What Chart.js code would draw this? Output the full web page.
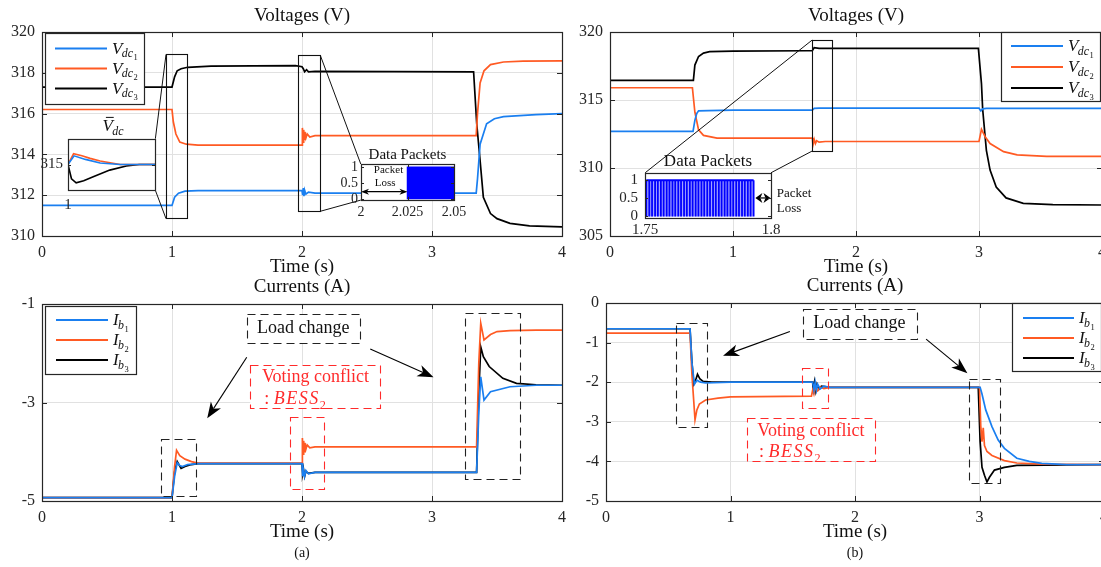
<!DOCTYPE html>
<html><head><meta charset="utf-8">
<script src="https://cdn.jsdelivr.net/npm/chart.js@4.4.0/dist/chart.umd.min.js"></script>
<style>
html,body{margin:0;padding:0;background:#fff;width:1101px;height:567px;overflow:hidden;position:relative}
canvas{position:absolute}
</style></head><body>
<canvas id="cTL"></canvas><canvas id="cTR"></canvas><canvas id="cBL"></canvas><canvas id="cBR"></canvas>
<canvas id="cInV"></canvas><canvas id="cInPA"></canvas><canvas id="cInPB"></canvas>
<script>
// ================= DATA =================
const xTicksMain = [0, 1, 2, 3, 4];
const yTicksTL = [310, 312, 314, 316, 318, 320];
const yTicksTR = [305, 310, 315, 320];
const yTicksBL = [-5, -3, -1];
const yTicksBR = [-5, -4, -3, -2, -1, 0];

// (a) Voltages
const tA_V1 = [0,1.0,1.02,1.05,1.1,1.2,2.0,2.005,2.01,2.015,2.02,2.03,2.05,2.1,3.34,3.35,3.37,3.42,3.48,3.55,3.8,4.0];
const vA_V1 = [311.5,311.5,311.9,312.1,312.2,312.22,312.22,312.0,312.35,311.95,312.25,312.05,312.15,312.1,312.1,312.8,314.5,315.5,315.75,315.85,315.95,316.0];
const tA_V2 = [0,1.0,1.01,1.03,1.06,1.11,1.2,2.0,2.003,2.008,2.013,2.018,2.023,2.03,2.04,2.06,2.1,3.34,3.35,3.37,3.4,3.45,3.55,3.7,4.0];
const vA_V2 = [316.2,316.2,315.6,315.0,314.6,314.5,314.45,314.45,315.3,314.6,315.2,314.75,315.1,314.8,315.0,314.85,314.92,314.92,316.0,317.5,318.1,318.4,318.53,318.57,318.58];
const tA_V3 = [0,1.0,1.02,1.04,1.07,1.12,1.3,1.95,2.0,2.01,2.02,2.035,2.05,2.1,3.32,3.344,3.37,3.395,3.45,3.5,3.6,3.75,4.0];
const vA_V3 = [317.3,317.3,317.8,318.1,318.2,318.27,318.33,318.35,318.3,318.2,318.05,318.15,318.05,318.07,318.05,315.5,313.7,311.9,311.1,310.85,310.62,310.5,310.45];

// (b) Voltages
const tB_V1 = [0,0.675,0.69,0.705,0.72,0.8,1.0,1.645,1.66,1.7,3.0,3.015,3.03,3.06,4.0];
const vB_V1 = [312.7,312.7,313.5,314.0,314.2,314.22,314.25,314.25,314.38,314.4,314.4,314.2,314.35,314.38,314.38];
const tB_V2 = [0,0.67,0.68,0.69,0.72,0.76,0.87,1.0,1.645,1.65,1.66,1.67,1.68,1.7,1.75,3.0,3.02,3.05,3.09,3.2,3.31,3.55,4.0];
const vB_V2 = [315.9,315.9,315.0,314.1,312.8,312.4,312.2,312.2,312.2,311.7,312.1,311.8,312.0,311.9,311.95,311.95,312.85,312.3,311.8,311.2,310.96,310.85,310.85];
const tB_V3 = [0,0.678,0.69,0.72,0.76,0.81,1.0,1.6,1.645,1.66,1.7,2.995,3.02,3.03,3.06,3.09,3.14,3.22,3.36,3.6,4.0];
const vB_V3 = [316.45,316.45,317.57,318.2,318.45,318.55,318.6,318.62,318.62,318.85,318.8,318.8,316.2,314.3,311.3,309.85,308.6,307.8,307.4,307.3,307.28];

// (a) Currents
const tA_I1 = [0,1.0,1.02,1.04,1.06,1.08,1.12,1.2,2.0,2.005,2.01,2.02,2.03,2.05,2.1,3.343,3.36,3.375,3.4,3.45,3.6,3.8,4.0];
const vA_I1 = [-4.93,-4.93,-4.5,-4.22,-4.28,-4.3,-4.26,-4.24,-4.24,-4.5,-4.35,-4.5,-4.38,-4.45,-4.42,-4.42,-3.2,-2.48,-2.95,-2.78,-2.68,-2.65,-2.65];
const tA_I2 = [0,1.0,1.02,1.035,1.06,1.1,1.15,1.2,2.0,2.003,2.008,2.013,2.018,2.023,2.03,2.04,2.06,2.1,3.343,3.36,3.375,3.4,3.45,3.5,3.6,3.8,4.0];
const vA_I2 = [-4.93,-4.93,-4.3,-3.97,-4.08,-4.15,-4.2,-4.23,-4.23,-3.72,-4.05,-3.78,-4.0,-3.82,-3.95,-3.86,-3.92,-3.9,-3.9,-2.2,-1.39,-1.73,-1.62,-1.56,-1.54,-1.53,-1.53];
const tA_I3 = [0,1.0,1.02,1.04,1.07,1.1,1.15,1.2,2.0,2.005,2.012,2.02,2.03,2.05,2.1,3.343,3.36,3.375,3.395,3.44,3.545,3.65,3.8,4.0];
const vA_I3 = [-4.93,-4.93,-4.4,-4.2,-4.34,-4.3,-4.26,-4.24,-4.24,-4.45,-4.36,-4.5,-4.4,-4.44,-4.42,-4.42,-2.8,-1.87,-2.07,-2.27,-2.51,-2.61,-2.64,-2.65];

// (b) Currents
const tB_I1 = [0,0.675,0.69,0.71,0.73,0.76,0.8,1.0,1.66,1.67,1.68,1.69,1.7,1.72,1.75,1.8,3.005,3.02,3.05,3.1,3.15,3.2,3.3,3.4,3.5,3.7,4.0];
const vB_I1 = [-0.65,-0.65,-1.5,-2.05,-1.95,-2.0,-2.02,-2.0,-2.0,-2.2,-2.0,-2.2,-2.05,-2.17,-2.1,-2.13,-2.13,-2.3,-2.7,-3.12,-3.46,-3.67,-3.92,-4.0,-4.05,-4.08,-4.08];
const tB_I2 = [0,0.675,0.69,0.715,0.73,0.75,0.8,0.9,1.0,1.65,1.66,1.67,1.68,1.7,1.72,1.75,1.8,3.0,3.01,3.02,3.03,3.04,3.06,3.1,3.2,3.3,3.5,4.0];
const vB_I2 = [-0.76,-0.76,-1.8,-2.95,-2.7,-2.55,-2.45,-2.4,-2.37,-2.35,-2.2,-2.3,-2.15,-2.22,-2.12,-2.16,-2.13,-2.13,-3.1,-3.5,-3.15,-3.6,-3.75,-3.85,-3.98,-4.04,-4.07,-4.08];
const tB_I3 = [0,0.675,0.69,0.705,0.72,0.735,0.755,0.78,0.85,1.0,1.66,1.665,1.675,1.685,1.695,1.71,1.73,1.8,2.99,3.005,3.02,3.04,3.06,3.08,3.12,3.2,3.3,4.0];
const vB_I3 = [-0.65,-0.65,-1.5,-2.05,-1.95,-1.8,-1.92,-1.98,-2.0,-2.0,-2.0,-2.25,-2.0,-2.22,-2.05,-2.18,-2.1,-2.13,-2.13,-3.5,-4.15,-4.35,-4.52,-4.4,-4.22,-4.15,-4.1,-4.08];

// Inset: averaged voltage (a)
const tIn_V1 = [1.0,1.035,1.1,1.185,1.3,1.5];
const vIn_V1 = [315.0,315.17,315.1,315.03,315.0,315.0];
const tIn_V2 = [1.0,1.032,1.08,1.127,1.185,1.25,1.3,1.5];
const vIn_V2 = [315.0,315.21,315.17,315.12,315.07,315.03,315.0,315.0];
const tIn_V3 = [1.0,1.02,1.047,1.09,1.145,1.24,1.335,1.41,1.5];
const vIn_V3 = [315.0,314.72,314.64,314.68,314.76,314.89,314.97,315.0,315.0];
const xTicksInV = [1];
const yTicksInV = [315];

// Inset: data packets (a)
const pktA_t = [2.025, 2.025, 2.05, 2.05];
const pktA_v = [0, 1, 1, 0];
const xTicksPA = [2, 2.025, 2.05];
const yTicksPA = [0, 0.5, 1];

// Inset: data packets (b)
const pktB_t = [1.7505,1.7517,1.7528,1.7540,1.7551,1.7563,1.7574,1.7586,1.7597,1.7609,1.7620,1.7632,1.7643,1.7655,1.7666,1.7678,1.7689,1.7701,1.7712,1.7724,1.7735,1.7747,1.7758,1.7770,1.7781,1.7793,1.7804,1.7816,1.7827,1.7839,1.7850,1.7862,1.7873,1.7885,1.7896,1.7908,1.7919,1.7931];
const xTicksPB = [1.75, 1.8];
const yTicksPB = [0, 0.5, 1];

// ================= STYLE / HELPERS =================
const FONT = '"Liberation Serif","Times New Roman",serif';
const C_BLUE = '#1a7ff0', C_ORANGE = '#ff5a23', C_BLACK = '#000000', C_RED = '#ff2b2b', C_FRAME = '#262626', C_PKT = '#0000ff';
const DASH = [8, 5];

function pts(t, v) { return t.map((x, i) => ({x: x, y: v[i]})); }
function fmt(v) { return String(+Number(v).toFixed(4)); }

function drawSub(ctx, x, y, it, size, color) {
  ctx.save();
  ctx.fillStyle = color; ctx.strokeStyle = color; ctx.textAlign = 'left'; ctx.textBaseline = 'alphabetic';
  ctx.font = 'italic ' + size + 'px ' + FONT;
  ctx.fillText(it.main, x, y);
  const w = ctx.measureText(it.main).width;
  if (it.bar) {
    ctx.lineWidth = 1; ctx.beginPath();
    ctx.moveTo(x + size * 0.2, y - size * 0.8); ctx.lineTo(x + w + size * 0.05, y - size * 0.8); ctx.stroke();
  }
  const s2 = size * 0.7;
  ctx.font = 'italic ' + s2 + 'px ' + FONT;
  const x2 = x + w - size * 0.04, y2 = y + size * 0.22;
  ctx.fillText(it.sub, x2, y2);
  const w2 = ctx.measureText(it.sub).width;
  if (it.subsub) {
    ctx.font = (size * 0.5) + 'px ' + FONT;
    ctx.fillText(it.subsub, x2 + w2 + 0.5, y2 + size * 0.17);
  }
  ctx.restore();
}

function drawRich(ctx, cx, cy, parts, size, color) {
  ctx.save();
  ctx.fillStyle = color; ctx.textAlign = 'left'; ctx.textBaseline = 'alphabetic';
  const fonts = parts.map(p => p[1] === 'italic' ? 'italic ' + size + 'px ' + FONT : (p[1] === 'sub' ? (size * 0.68) + 'px ' + FONT : size + 'px ' + FONT));
  const sp = 1.5;
  let total = 0;
  const ws = parts.map((p, i) => {
    ctx.font = fonts[i];
    let w = ctx.measureText(p[0]).width;
    if (p[1] === 'italic') w += (p[0].length) * sp;
    total += w; return w;
  });
  let x = cx - total / 2;
  const base = cy + size * 0.33;
  parts.forEach((p, i) => {
    ctx.font = fonts[i];
    if (p[1] === 'italic') {
      let xx = x;
      for (const ch of p[0]) { ctx.fillText(ch, xx, base); xx += ctx.measureText(ch).width + sp; }
    } else if (p[1] === 'sub') {
      ctx.fillText(p[0], x, base + size * 0.25);
    } else {
      ctx.fillText(p[0], x, base);
    }
    x += ws[i];
  });
  ctx.restore();
}

function arrowHead(ctx, x0, y0, x1, y1, len, half) {
  const a = Math.atan2(y1 - y0, x1 - x0);
  const ux = Math.cos(a), uy = Math.sin(a), nx = -uy, ny = ux;
  const bx = x1 - ux * len, by = y1 - uy * len;
  const notch = len * 0.72;
  ctx.beginPath();
  ctx.moveTo(x1, y1);
  ctx.lineTo(bx + nx * half, by + ny * half);
  ctx.lineTo(x1 - ux * notch, y1 - uy * notch);
  ctx.lineTo(bx - nx * half, by - ny * half);
  ctx.closePath(); ctx.fill();
  return [x1 - ux * notch, y1 - uy * notch];
}

function P(chart, x, y) { return [chart.scales.x.getPixelForValue(x), chart.scales.y.getPixelForValue(y)]; }

function drawAnnots(chart, an) {
  const ctx = chart.ctx;
  ctx.save();
  (an.rects || []).forEach(r => {
    const [xa, ya] = P(chart, r.x0, r.y1), [xb, yb] = P(chart, r.x1, r.y0);
    if (r.fill) { ctx.fillStyle = '#fff'; ctx.fillRect(xa, ya, xb - xa, yb - ya); }
    ctx.setLineDash(r.dash || []);
    ctx.strokeStyle = r.color; ctx.lineWidth = r.lw || 1.1;
    ctx.strokeRect(Math.round(xa) + 0.5, Math.round(ya) + 0.5, Math.round(xb - xa), Math.round(yb - ya));
  });
  ctx.setLineDash([]);
  (an.links || []).forEach(l => {
    const [xa, ya] = P(chart, l.x0, l.y0), [xb, yb] = P(chart, l.x1, l.y1);
    ctx.strokeStyle = '#111'; ctx.lineWidth = 1;
    ctx.beginPath(); ctx.moveTo(xa, ya); ctx.lineTo(xb, yb); ctx.stroke();
  });
  (an.arrows || []).forEach(l => {
    const [xa, ya] = P(chart, l.x0, l.y0), [xb, yb] = P(chart, l.x1, l.y1);
    ctx.fillStyle = '#000'; ctx.strokeStyle = '#000'; ctx.lineWidth = 1.1;
    const e = arrowHead(ctx, xa, ya, xb, yb, l.len || 16, l.half || 6);
    ctx.beginPath(); ctx.moveTo(xa, ya); ctx.lineTo(e[0], e[1]); ctx.stroke();
  });
  (an.darrows || []).forEach(l => {
    const [xa, ya] = P(chart, l.x0, l.y), [xb, yb] = P(chart, l.x1, l.y);
    ctx.fillStyle = '#000'; ctx.strokeStyle = '#000'; ctx.lineWidth = 1.2;
    const e1 = arrowHead(ctx, xa, ya, xb, yb, l.len || 7, l.half || 3);
    const e0 = arrowHead(ctx, xb, yb, xa, ya, l.len || 7, l.half || 3);
    ctx.beginPath(); ctx.moveTo(e0[0], e0[1]); ctx.lineTo(e1[0], e1[1]); ctx.stroke();
  });
  (an.texts || []).forEach(t => {
    const [xx, yy] = P(chart, t.x, t.y);
    ctx.fillStyle = t.color || '#111';
    ctx.font = (t.size || 18) + 'px ' + FONT;
    ctx.textAlign = t.align || 'center'; ctx.textBaseline = 'middle';
    ctx.fillText(t.text, xx, yy);
  });
  (an.rich || []).forEach(t => {
    const [xx, yy] = P(chart, t.x, t.y);
    drawRich(ctx, xx, yy, t.parts, t.size || 18, t.color || '#111');
  });
  ctx.restore();
}

function drawFrame(chart, tl) {
  const ctx = chart.ctx, a = chart.chartArea, xs = chart.scales.x, ys = chart.scales.y;
  ctx.save();
  ctx.strokeStyle = C_FRAME; ctx.lineWidth = 1;
  if (tl > 0) {
    ctx.beginPath();
    xs.ticks.forEach(t => {
      const p = Math.round(xs.getPixelForValue(t.value)) + 0.5;
      ctx.moveTo(p, a.bottom); ctx.lineTo(p, a.bottom - tl);
      ctx.moveTo(p, a.top); ctx.lineTo(p, a.top + tl);
    });
    ys.ticks.forEach(t => {
      const p = Math.round(ys.getPixelForValue(t.value)) + 0.5;
      ctx.moveTo(a.left, p); ctx.lineTo(a.left + tl, p);
      ctx.moveTo(a.right, p); ctx.lineTo(a.right - tl, p);
    });
    ctx.stroke();
  }
  ctx.lineWidth = 1.2;
  ctx.strokeRect(Math.round(a.left) + 0.5, Math.round(a.top) + 0.5, Math.round(a.right - a.left), Math.round(a.bottom - a.top));
  ctx.restore();
}

function drawLegend(chart, lg) {
  const ctx = chart.ctx, a = chart.chartArea;
  const left = lg.anchor === 'right' ? a.right - lg.dx - lg.w : a.left + lg.dx;
  const top = a.top + lg.dy;
  ctx.save();
  ctx.fillStyle = '#fff'; ctx.fillRect(left, top, lg.w, lg.h);
  ctx.strokeStyle = C_FRAME; ctx.lineWidth = 1.2;
  ctx.strokeRect(Math.round(left) + 0.5, Math.round(top) + 0.5, lg.w, lg.h);
  lg.items.forEach((it, i) => {
    const y = top + lg.row0 + i * lg.gap;
    ctx.strokeStyle = chart.data.datasets[i].borderColor; ctx.lineWidth = 2;
    ctx.beginPath(); ctx.moveTo(left + lg.lx0, y); ctx.lineTo(left + lg.lx1, y); ctx.stroke();
    drawSub(ctx, left + lg.tx, y + 5, it, 17, '#111');
  });
  ctx.restore();
}

function decor(spec) {
  return {
    id: 'decor',
    beforeDraw(chart) {
      if (spec.whiteBg) {
        const a = chart.chartArea, c = chart.ctx;
        c.save(); c.fillStyle = '#fff'; c.fillRect(a.left, a.top, a.right - a.left, a.bottom - a.top); c.restore();
      }
    },
    afterDatasetsDraw(chart) { if (spec.annot) drawAnnots(chart, spec.annot); },
    afterDraw(chart) {
      const ctx = chart.ctx, a = chart.chartArea, cx = (a.left + a.right) / 2;
      drawFrame(chart, spec.tickLen);
      if (spec.legend) drawLegend(chart, spec.legend);
      ctx.save();
      ctx.fillStyle = '#111'; ctx.textAlign = 'center'; ctx.textBaseline = 'middle';
      if (spec.title) { ctx.font = (spec.titleSize || 19) + 'px ' + FONT; ctx.fillText(spec.title, cx, a.top - (spec.titleGap || 16)); }
      if (spec.xTitle) { ctx.font = '19px ' + FONT; ctx.fillText(spec.xTitle, cx, a.bottom + 31); }
      if (spec.caption) { ctx.font = '14px ' + FONT; ctx.fillText(spec.caption, cx, a.bottom + 52); }
      ctx.restore();
      if (spec.subLabel) drawSub(ctx, cx - 9, a.top - 8, spec.subLabel, 17, '#111');
    }
  };
}

function axisCfg(min, max, ticks, fitFn, fontSize, pad, grid) {
  return {
    type: 'linear', min: min, max: max,
    afterBuildTicks: s => { s.ticks = ticks.map(v => ({value: v})); },
    afterFit: fitFn,
    grid: grid ? { color: '#e1e1e1', drawTicks: false, lineWidth: 1 } : { display: false, drawTicks: false },
    border: { display: false },
    ticks: { font: { family: FONT, size: fontSize }, color: C_FRAME, padding: pad, maxRotation: 0, autoSkip: false, callback: fmt }
  };
}

function mainChart(id, box, series, yMin, yMax, yTicks, spec) {
  const cv = document.getElementById(id);
  cv.width = box.padL + box.plotW + box.padR; cv.height = box.padT + box.plotH + box.padB;
  cv.style.left = box.left + 'px'; cv.style.top = box.top + 'px';
  return new Chart(cv, {
    type: 'line',
    data: { datasets: series.map(s => ({ label: s.label, data: pts(s.t, s.v), borderColor: s.color, backgroundColor: s.color, borderWidth: 1.7, pointRadius: 0, tension: 0, fill: false })) },
    options: {
      responsive: false, animation: false, events: [], devicePixelRatio: 1,
      layout: { padding: { left: 0, top: box.padT, right: box.padR, bottom: 0 } },
      scales: {
        x: axisCfg(xTicksMain[0], xTicksMain[xTicksMain.length - 1], xTicksMain, s => { s.height = box.padB; }, 16, 7, true),
        y: axisCfg(yMin, yMax, yTicks, s => { s.width = box.padL; }, 16, 7, true)
      },
      plugins: { legend: { display: false }, tooltip: { enabled: false } }
    },
    plugins: [decor(spec)]
  });
}

function insetChart(id, main, mbox, cfg, datasets) {
  const xs = main.scales.x, ys = main.scales.y;
  const L = Math.round(xs.getPixelForValue(cfg.rect.x0)) + mbox.left;
  const R = Math.round(xs.getPixelForValue(cfg.rect.x1)) + mbox.left;
  const T = Math.round(ys.getPixelForValue(cfg.rect.y1)) + mbox.top;
  const B = Math.round(ys.getPixelForValue(cfg.rect.y0)) + mbox.top;
  const p = cfg.pad;
  const cv = document.getElementById(id);
  cv.width = R - L + p.l + p.r; cv.height = B - T + p.t + p.b;
  cv.style.left = (L - p.l) + 'px'; cv.style.top = (T - p.t) + 'px';
  return new Chart(cv, {
    type: 'line',
    data: { datasets: datasets },
    options: {
      responsive: false, animation: false, events: [], devicePixelRatio: 1,
      layout: { padding: { left: 0, top: p.t, right: p.r, bottom: 0 } },
      scales: {
        x: axisCfg(cfg.xMin, cfg.xMax, cfg.xTicks, s => { s.height = p.b; }, cfg.tickFont, cfg.xPad, false),
        y: axisCfg(cfg.yMin, cfg.yMax, cfg.yTicks, s => { s.width = p.l; }, cfg.tickFont, cfg.yPad, false)
      },
      plugins: { legend: { display: false }, tooltip: { enabled: false } }
    },
    plugins: [decor(cfg.spec)]
  });
}

// ================= MAIN CHARTS =================
const boxTL = { left: 0, top: 0, padL: 42, padT: 32, plotW: 520, plotH: 204, padR: 20, padB: 44 };
const boxTR = { left: 565, top: 0, padL: 45, padT: 32, plotW: 492, plotH: 204, padR: 20, padB: 44 };
const boxBL = { left: 0, top: 262, padL: 42, padT: 42, plotW: 520, plotH: 197, padR: 20, padB: 66 };
const boxBR = { left: 561, top: 262, padL: 45, padT: 41, plotW: 498, plotH: 198, padR: 20, padB: 66 };

const legV = [{main:'V', sub:'dc', subsub:'1'}, {main:'V', sub:'dc', subsub:'2'}, {main:'V', sub:'dc', subsub:'3'}];
const legI = [{main:'I', sub:'b', subsub:'1'}, {main:'I', sub:'b', subsub:'2'}, {main:'I', sub:'b', subsub:'3'}];
const bessParts = [[': ', 'normal'], ['BESS', 'italic'], ['2', 'sub']];

const chTL = mainChart('cTL', boxTL, [
  { label: 'Vdc1', t: tA_V1, v: vA_V1, color: C_BLUE },
  { label: 'Vdc2', t: tA_V2, v: vA_V2, color: C_ORANGE },
  { label: 'Vdc3', t: tA_V3, v: vA_V3, color: C_BLACK }
], 310, 320, yTicksTL, {
  title: 'Voltages (V)', xTitle: 'Time (s)', tickLen: 5,
  legend: { anchor: 'left', dx: 3, dy: 1, w: 99, h: 71, lx0: 10, lx1: 62, tx: 67, row0: 15.5, gap: 20, items: legV },
  annot: {
    rects: [{ x0: 0.954, x1: 1.113, y0: 310.85, y1: 318.9, color: '#111' }, { x0: 1.97, x1: 2.14, y0: 311.21, y1: 318.87, color: '#111' }],
    links: [{ x0: 0.954, y0: 318.9, x1: 0.872, y1: 314.77 }, { x0: 0.954, y0: 310.85, x1: 0.872, y1: 312.24 },
            { x0: 2.14, y0: 318.87, x1: 2.452, y1: 313.53 }, { x0: 2.14, y0: 311.21, x1: 2.452, y1: 311.76 }]
  }
});

const chTR = mainChart('cTR', boxTR, [
  { label: 'Vdc1', t: tB_V1, v: vB_V1, color: C_BLUE },
  { label: 'Vdc2', t: tB_V2, v: vB_V2, color: C_ORANGE },
  { label: 'Vdc3', t: tB_V3, v: vB_V3, color: C_BLACK }
], 305, 320, yTicksTR, {
  title: 'Voltages (V)', xTitle: 'Time (s)', tickLen: 5,
  legend: { anchor: 'right', dx: 2, dy: 0, w: 99, h: 69, lx0: 10, lx1: 62, tx: 67, row0: 14, gap: 21, items: legV },
  annot: {
    rects: [{ x0: 1.644, x1: 1.81, y0: 311.25, y1: 319.41, color: '#111' }],
    links: [{ x0: 1.644, y0: 319.41, x1: 0.286, y1: 309.65 }, { x0: 1.644, y0: 311.25, x1: 1.309, y1: 309.65 }]
  }
});

const chBL = mainChart('cBL', boxBL, [
  { label: 'Ib1', t: tA_I1, v: vA_I1, color: C_BLUE },
  { label: 'Ib2', t: tA_I2, v: vA_I2, color: C_ORANGE },
  { label: 'Ib3', t: tA_I3, v: vA_I3, color: C_BLACK }
], -5, -1, yTicksBL, {
  title: 'Currents (A)', xTitle: 'Time (s)', caption: '(a)', tickLen: 5, titleGap: 17,
  legend: { anchor: 'left', dx: 3, dy: 2, w: 91, h: 68, lx0: 11, lx1: 63, tx: 68, row0: 14, gap: 20, items: legI },
  annot: {
    rects: [
      { x0: 1.575, x1: 2.442, y0: -1.798, y1: -1.209, color: '#222', dash: DASH, fill: true },
      { x0: 1.602, x1: 2.604, y0: -3.118, y1: -2.239, color: C_RED, dash: DASH, fill: true },
      { x0: 0.919, x1: 1.188, y0: -4.898, y1: -3.747, color: '#222', dash: DASH },
      { x0: 1.909, x1: 2.173, y0: -4.742, y1: -3.288, color: C_RED, dash: DASH },
      { x0: 3.25, x1: 3.673, y0: -4.539, y1: -1.177, color: '#222', dash: DASH }
    ],
    arrows: [{ x0: 1.575, y0: -2.082, x1: 1.271, y1: -3.321 }, { x0: 2.525, y0: -1.914, x1: 3.012, y1: -2.488 }],
    texts: [{ x: 2.01, y: -1.50, text: 'Load change' }, { x: 2.104, y: -2.492, text: 'Voting conflict', color: C_RED }],
    rich: [{ x: 1.946, y: -2.91, parts: bessParts, color: C_RED }]
  }
});

const chBR = mainChart('cBR', boxBR, [
  { label: 'Ib1', t: tB_I1, v: vB_I1, color: C_BLUE },
  { label: 'Ib2', t: tB_I2, v: vB_I2, color: C_ORANGE },
  { label: 'Ib3', t: tB_I3, v: vB_I3, color: C_BLACK }
], -5, 0, yTicksBR, {
  title: 'Currents (A)', xTitle: 'Time (s)', caption: '(b)', tickLen: 5, titleGap: 17,
  legend: { anchor: 'right', dx: 3, dy: 0, w: 89, h: 68, lx0: 11, lx1: 62, tx: 67, row0: 15, gap: 20, items: legI },
  annot: {
    rects: [
      { x0: 1.579, x1: 2.491, y0: -0.904, y1: -0.152, color: '#222', dash: DASH, fill: true },
      { x0: 1.134, x1: 2.161, y0: -3.985, y1: -2.911, color: C_RED, dash: DASH, fill: true },
      { x0: 0.566, x1: 0.812, y0: -3.139, y1: -0.506, color: '#222', dash: DASH },
      { x0: 1.576, x1: 1.788, y0: -2.633, y1: -1.63, color: C_RED, dash: DASH },
      { x0: 2.918, x1: 3.167, y0: -4.542, y1: -1.924, color: '#222', dash: DASH }
    ],
    arrows: [{ x0: 1.477, y0: -0.719, x1: 0.940, y1: -1.334 }, { x0: 2.571, y0: -0.911, x1: 2.903, y1: -1.772 }],
    texts: [{ x: 2.035, y: -0.524, text: 'Load change' }, { x: 1.646, y: -3.24, text: 'Voting conflict', color: C_RED }],
    rich: [{ x: 1.477, y: -3.74, parts: bessParts, color: C_RED }]
  }
});

// ================= INSETS =================
insetChart('cInV', chTL, boxTL, {
  rect: { x0: 0.2, x1: 0.872, y0: 312.24, y1: 314.77 }, pad: { l: 40, t: 26, r: 6, b: 26 },
  xMin: 1, xMax: 1.5, xTicks: xTicksInV, yMin: 314.5, yMax: 315.5, yTicks: yTicksInV, tickFont: 15, xPad: 6, yPad: 5,
  spec: { whiteBg: true, tickLen: 3, subLabel: { main: 'V', sub: 'dc', bar: true } }
}, [
  { data: pts(tIn_V1, vIn_V1), borderColor: C_BLUE, borderWidth: 1.6, pointRadius: 0, fill: false },
  { data: pts(tIn_V2, vIn_V2), borderColor: C_ORANGE, borderWidth: 1.6, pointRadius: 0, fill: false },
  { data: pts(tIn_V3, vIn_V3), borderColor: C_BLACK, borderWidth: 1.6, pointRadius: 0, fill: false }
]);

insetChart('cInPA', chTL, boxTL, {
  rect: { x0: 2.452, x1: 3.167, y0: 311.76, y1: 313.53 }, pad: { l: 34, t: 22, r: 22, b: 22 },
  xMin: 2, xMax: 2.05, xTicks: xTicksPA, yMin: -0.02, yMax: 1.1, yTicks: yTicksPA, tickFont: 14, xPad: 4, yPad: 3,
  spec: { whiteBg: true, tickLen: 3, title: 'Data Packets', titleSize: 15, titleGap: 9,
    annot: {
      darrows: [{ x0: 2.0, x1: 2.025, y: 0.24, len: 8, half: 3 }],
      texts: [{ x: 2.0148, y: 0.9, text: 'Packet', size: 11 }, { x: 2.013, y: 0.52, text: 'Loss', size: 11 }]
    } }
}, [
  { data: pts(pktA_t, pktA_v), borderColor: C_PKT, backgroundColor: C_PKT, borderWidth: 1.5, pointRadius: 0, fill: 'origin' }
]);

const stripePts = [];
pktB_t.forEach(t => { stripePts.push({x: t, y: 0}, {x: t, y: 1}, {x: t, y: null}); });
insetChart('cInPB', chTR, boxTR, {
  rect: { x0: 0.286, x1: 1.309, y0: 306.3, y1: 309.65 }, pad: { l: 34, t: 24, r: 50, b: 22 },
  xMin: 1.75, xMax: 1.8, xTicks: xTicksPB, yMin: -0.044, yMax: 1.2, yTicks: yTicksPB, tickFont: 15, xPad: 3, yPad: 7,
  spec: { whiteBg: true, tickLen: 3, title: 'Data Packets', titleSize: 17, titleGap: 11,
    annot: {
      darrows: [{ x0: 1.7938, x1: 1.7998, y: 0.51, len: 7, half: 5 }],
      texts: [{ x: 1.8023, y: 0.64, text: 'Packet', size: 13, align: 'left' }, { x: 1.8023, y: 0.23, text: 'Loss', size: 13, align: 'left' }]
    } }
}, [
  { data: stripePts, borderColor: C_PKT, borderWidth: 1.8, pointRadius: 0, fill: false, spanGaps: false, order: 0 },
  { data: pts(pktB_t, pktB_t.map(() => 1)), borderColor: C_PKT, backgroundColor: 'rgba(70,70,255,0.5)', borderWidth: 2, pointRadius: 0, fill: 'origin', order: 1 }
]);
</script>
</body></html>
